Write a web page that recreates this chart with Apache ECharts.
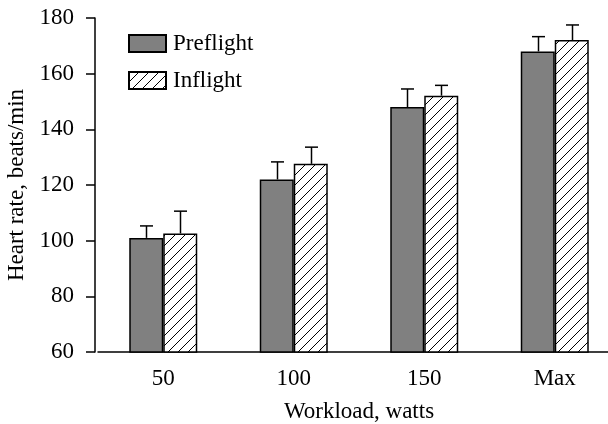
<!DOCTYPE html>
<html>
<head>
<meta charset="utf-8">
<script src="https://cdn.jsdelivr.net/npm/echarts@6/dist/echarts.min.js"></script>
<style>html,body{margin:0;padding:0;background:#fff}#c{width:608px;height:424px}</style>
</head>
<body>
<div id="c"></div>
<script>
const categories = ['50', '100', '150', 'Max'];
const preflight = [101, 122, 148, 168];
const preflightErr = [105.3, 128.3, 154.5, 173.3];
const inflight = [102.6, 127.6, 152.1, 172.1];
const inflightErr = [110.6, 133.6, 155.8, 177.5];
const yTicks = { min: 60, max: 180, interval: 20 };

// hatch pattern
const pc = document.createElement('canvas');
pc.width = 10; pc.height = 10;
const g = pc.getContext('2d');
g.fillStyle = '#fff'; g.fillRect(0, 0, 10, 10);
g.strokeStyle = '#000'; g.lineWidth = 1;
g.beginPath();
g.moveTo(-1, 11); g.lineTo(11, -1);
g.moveTo(-1, 1); g.lineTo(1, -1);
g.moveTo(9, 11); g.lineTo(11, 9);
g.stroke();

const FONT = 'Liberation Serif';
const FS = 23;
const BW = 34;

function errSeries(vals, errs, off) {
  return {
    type: 'custom',
    z: 5,
    data: vals.map((v, i) => [i, v, errs[i]]),
    renderItem: function (params, api) {
      const b = api.coord([api.value(0), api.value(1)]);
      const t = api.coord([api.value(0), api.value(2)]);
      const x = Math.round(b[0] + off) + 0.5;
      const st = { stroke: '#000', lineWidth: 1.5 };
      return {
        type: 'group',
        children: [
          { type: 'line', shape: { x1: x, y1: b[1], x2: x, y2: t[1] }, style: st },
          { type: 'line', shape: { x1: x - 6.5, y1: t[1], x2: x + 6.5, y2: t[1] }, style: st }
        ]
      };
    }
  };
}

const chart = echarts.init(document.getElementById('c'), null, { renderer: 'canvas' });
chart.setOption({
  animation: false,
  backgroundColor: '#fff',
  textStyle: { fontFamily: FONT, color: '#000' },
  grid: { left: 98, top: 18, width: 522, height: 334, outerBoundsMode: 'none', containLabel: false },
  legend: {
    orient: 'vertical', left: 128, top: 32, padding: 0, itemWidth: 37, itemHeight: 17, itemGap: 14,
    icon: 'rect',
    textStyle: { fontFamily: FONT, fontSize: FS, color: '#000', padding: [0, 0, 0, 2] },
    data: ['Preflight', 'Inflight']
  },
  xAxis: {
    type: 'category', data: categories,
    name: 'Workload, watts', nameLocation: 'middle', nameGap: 48,
    nameTextStyle: { fontFamily: FONT, fontSize: FS, color: '#000' },
    axisLine: { lineStyle: { color: '#000', width: 1.5 } },
    axisTick: { alignWithLabel: true, length: 8, lineStyle: { color: '#000', width: 1.5 } },
    axisLabel: { fontFamily: FONT, fontSize: FS, color: '#000', margin: 15 }
  },
  yAxis: {
    type: 'value', min: yTicks.min, max: yTicks.max, interval: yTicks.interval, offset: 3,
    name: 'Heart rate, beats/min', nameLocation: 'middle', nameGap: 61,
    nameTextStyle: { fontFamily: FONT, fontSize: FS, color: '#000' },
    axisLine: { show: true, lineStyle: { color: '#000', width: 1.5 } },
    axisTick: { show: true, length: 9, lineStyle: { color: '#000', width: 1.5 } },
    axisLabel: { fontFamily: FONT, fontSize: FS, color: '#000', margin: 21 },
    splitLine: { show: false }
  },
  series: [
    { name: 'Preflight', type: 'bar', data: preflight, barWidth: BW, barGap: '0%',
      itemStyle: { color: '#808080', borderColor: '#000', borderWidth: 1.5 } },
    { name: 'Inflight', type: 'bar', data: inflight, barWidth: BW, barGap: '0%',
      itemStyle: { color: { image: pc, repeat: 'repeat' }, borderColor: '#000', borderWidth: 1.5 } },
    errSeries(preflight, preflightErr, -BW / 2),
    errSeries(inflight, inflightErr, BW / 2)
  ]
});
</script>
</body>
</html>
